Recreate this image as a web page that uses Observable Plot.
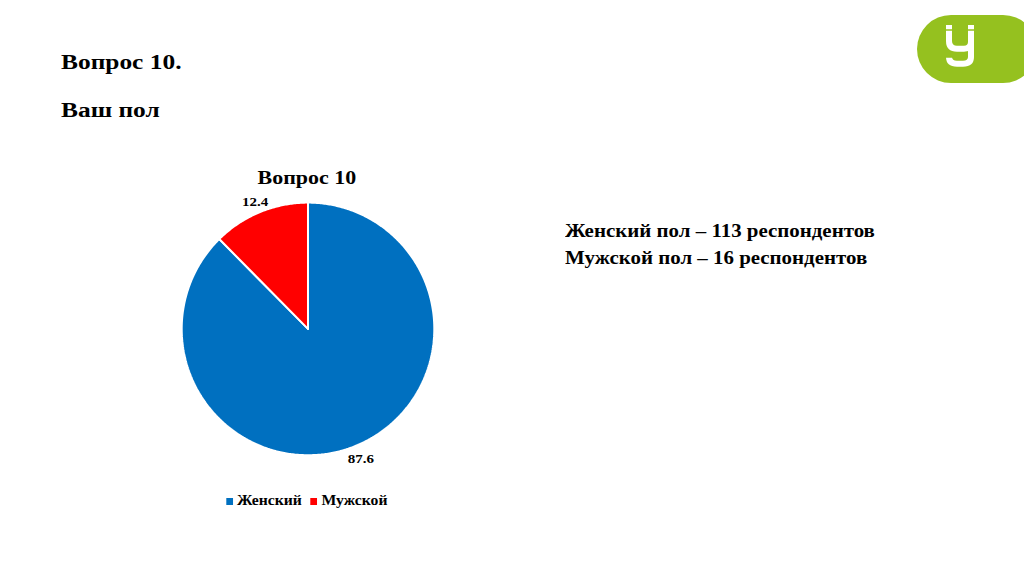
<!DOCTYPE html>
<html>
<head>
<meta charset="utf-8">
<script src="https://cdn.jsdelivr.net/npm/d3@7"></script>
<script src="https://cdn.jsdelivr.net/npm/@observablehq/plot@0.6"></script>
<style>
  html, body { margin: 0; padding: 0; background: #fff; }
  body { width: 1024px; height: 576px; position: relative; overflow: hidden;
         font-family: "Liberation Serif", "Times New Roman", serif; font-weight: bold; color: #000; }
  .abs { position: absolute; white-space: nowrap; }
  #t1, #t2 { left: 61px; font-size: 20px; line-height: 24px; transform: scaleX(1.27); transform-origin: 0 0; }
  #t1 { top: 49.7px; }
  #t2 { top: 97.7px; }
  #ctitle { left: 157px; width: 300px; text-align: center; top: 166.6px; font-size: 18px; line-height: 22px;
            transform: scaleX(1.22); transform-origin: 150.5px 0; }
  #info { left: 565px; top: 216.5px; font-size: 19px; line-height: 27px; transform: scaleX(1.1); transform-origin: 0 0; }
  #chart { left: 157px; top: 188px; }
  #legend { left: 157px; width: 300px; top: 491.6px; text-align: center; font-size: 14px; line-height: 18px;
            transform: scaleX(1.12); transform-origin: 150.5px 0; }
  #legend span.item { margin: 0 4px; }
  #legend span.sw { display: inline-block; width: 6px; height: 7px; margin-right: 3.5px; vertical-align: 0px; }
  #logo { left: 917px; top: 15px; width: 120px; height: 68px; border-radius: 34px; background: #95C11F; }
</style>
</head>
<body>
<div id="t1" class="abs">Вопрос 10.</div>
<div id="t2" class="abs">Ваш пол</div>
<div id="ctitle" class="abs">Вопрос 10</div>
<div id="info" class="abs">Женский пол – 113 респондентов<br>Мужской пол – 16 респондентов</div>
<div id="chart" class="abs"></div>
<div id="legend" class="abs"></div>
<div id="logo" class="abs">
  <svg width="120" height="68" viewBox="0 0 120 68">
    <g fill="none" stroke="#fff" stroke-width="6" stroke-linecap="butt">
      <path d="M32 10 V26 Q32 33.7 40 33.7 H47 Q54 33.7 54 27"/>
      <path d="M54 10 V42 Q54 48.7 46 48.7 H40 Q32 48.7 32 42"/>
    </g>
    <g stroke="#95C11F" stroke-width="1.5">
      <line x1="27" y1="15" x2="60" y2="15"/>
      <line x1="27" y1="42" x2="37" y2="42"/>
    </g>
  </svg>
</div>
<script>
// ---- data ----
const categories = ["Женский", "Мужской"];
const values = [87.6, 12.4];
const colors = ["#0070C0", "#FF0000"];

// ---- geometry from data ----
const data = categories.map((c, i) => ({category: c, value: values[i]}));
const pie = d3.pie().value(d => d.value).sort(null)(data);

const slicePts = [];
for (const a of pie) {
  const cat = a.data.category;
  slicePts.push({category: cat, x: 0, y: 0});
  const n = Math.max(4, Math.ceil((a.endAngle - a.startAngle) / 0.01));
  for (let k = 0; k <= n; k++) {
    const t = a.startAngle + (a.endAngle - a.startAngle) * k / n;
    slicePts.push({category: cat, x: Math.sin(t), y: Math.cos(t)});
  }
  slicePts.push({category: cat, x: 0, y: 0});
}
const labels = pie.map(a => {
  const m = (a.startAngle + a.endAngle) / 2;
  const r = 1.1;
  return {x: r * Math.sin(m), y: r * Math.cos(m) - 0.015, text: a.data.value.toFixed(1)};
});

const plot = Plot.plot({
  width: 300,
  height: 295,
  margin: 0,
  style: {background: "transparent", overflow: "visible"},
  x: {domain: [-1, 1], range: [24.2, 276.8], axis: null},
  y: {domain: [-1, 1], range: [266.7, 14.1], axis: null},
  color: {domain: categories, range: colors},
  marks: [
    Plot.line(slicePts, {x: "x", y: "y", z: "category", fill: "category", stroke: "#fff", strokeWidth: 2, strokeLinejoin: "miter", curve: "linear"}),
    Plot.text(labels, {x: "x", y: "y", text: "text", fontSize: 12, fontWeight: "bold",
      fontFamily: "Liberation Serif, Times New Roman, serif", fill: "#000", textAnchor: "middle", lineAnchor: "middle"})
  ]
});
// widen label glyphs horizontally around their anchor, like the reference
plot.querySelectorAll("text").forEach(t => {
  const tr = t.getAttribute("transform") || "";
  t.setAttribute("transform", `${tr} scale(1.25,1)`);
});
document.getElementById("chart").appendChild(plot);

// legend
const lg = document.getElementById("legend");
categories.forEach((c, i) => {
  const item = document.createElement("span");
  item.className = "item";
  const sw = document.createElement("span");
  sw.className = "sw";
  sw.style.background = colors[i];
  item.appendChild(sw);
  item.appendChild(document.createTextNode(c));
  lg.appendChild(item);
});
</script>
</body>
</html>
